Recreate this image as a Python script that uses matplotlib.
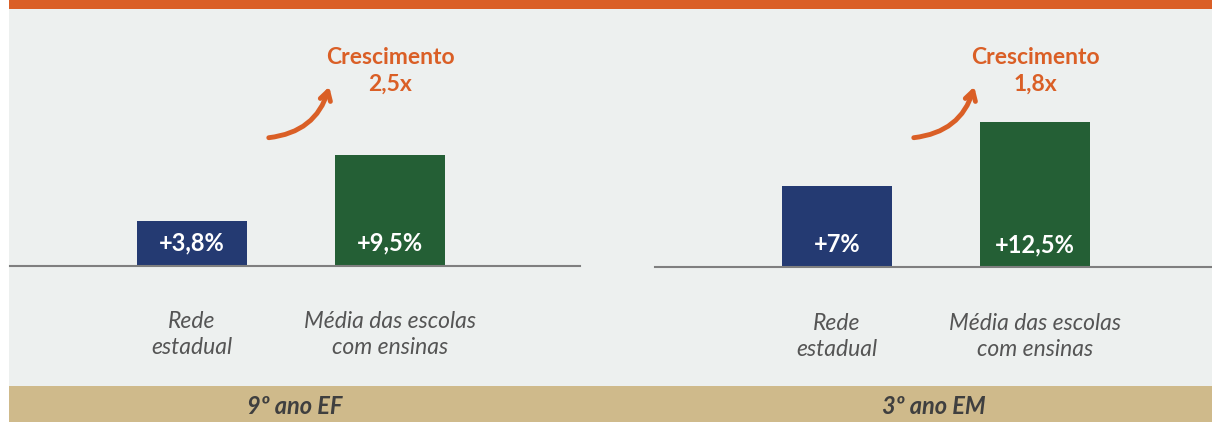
import matplotlib
matplotlib.use('Agg')
from matplotlib import pyplot as plt
from matplotlib.patches import Rectangle
import matplotlib.transforms as mtransforms

plt.rcParams['font.family'] = ['Lato', 'DejaVu Sans']

# data
categories = ['Rede\nestadual', 'Média das escolas\ncom ensinas']
panels = ['9º ano EF', '3º ano EM']
values_ef = [3.8, 9.5]
values_em = [7.0, 12.5]
labels_ef = ['+3,8%', '+9,5%']
labels_em = ['+7%', '+12,5%']
growth = ['2,5x', '1,8x']

blue = '#243a72'
green = '#245f35'
orange = '#da5f26'
bg = '#edf0ef'
tan = '#cfba8b'

W, H = 1212, 422
fig = plt.figure(figsize=(W / 100, H / 100), dpi=100)
fig.patch.set_facecolor('white')

def px_rect(x0, y0, x1, y1, color):
    # rectangle in pixels, y measured from top
    fig.add_artist(Rectangle((x0 / W, 1 - y1 / H), (x1 - x0) / W, (y1 - y0) / H,
                             transform=fig.transFigure, color=color, lw=0, zorder=0))

px_rect(9, 0, W, 9, orange)
px_rect(9, 9, W, 386, bg)
px_rect(9, 386, W, H, tan)

px_per_unit = 11.6
bar_step = 198.0
bar_w = 110 / bar_step

def panel(x0, x1, base, first_center, values, labels, grow, title):
    top = 9
    ax = fig.add_axes([x0 / W, 1 - base / H, (x1 - x0) / W, (base - top) / H])
    ax.set_facecolor('none')
    ax.set_xlim((x0 - first_center) / bar_step, (x1 - first_center) / bar_step)
    ax.set_ylim(0, (base - top) / px_per_unit)
    ax.bar([0, 1], values, width=bar_w, color=[blue, green], zorder=2)
    for i, lab in enumerate(labels):
        ax.annotate(lab, xy=(i, 0), xytext=(0, 16), textcoords='offset points',
                    ha='center', va='center', color='white', fontsize=17,
                    fontweight='bold', zorder=3)
    for s in ['top', 'left', 'right']:
        ax.spines[s].set_visible(False)
    ax.spines['bottom'].set_color('#7f7f7f')
    ax.spines['bottom'].set_linewidth(1.5)
    ax.set_yticks([])
    ax.set_xticks([0, 1])
    ax.set_xticklabels(categories, fontsize=16.5, style='italic', color='#555555',
                       linespacing=1.3)
    ax.tick_params(axis='x', length=0, pad=33)

    tr = mtransforms.blended_transform_factory(ax.transData, fig.transFigure)
    ax.text(1, 1 - 71 / H, 'Crescimento\n' + grow, transform=tr, ha='center',
            va='center', color=orange, fontsize=16.5, fontweight='bold',
            linespacing=1.3)
    ax.annotate('', xy=((330 - 192) / bar_step, 1 - 84 / H),
                xytext=((266 - 192) / bar_step, 1 - 138 / H),
                xycoords=tr, textcoords=tr, annotation_clip=False,
                arrowprops=dict(arrowstyle='->,head_length=0.65,head_width=0.38',
                                connectionstyle='arc3,rad=0.35', color=orange,
                                lw=3.5, capstyle='round', joinstyle='round'))
    fig.text(((x0 + x1) / 2) / W, 1 - 407 / H, title, ha='center', va='center',
             fontsize=17, style='italic', fontweight='bold', color='#3f3f3f')

panel(10, 580, 265.5, 192, values_ef, labels_ef, growth[0], panels[0])
panel(655, 1212, 267, 837, values_em, labels_em, growth[1], panels[1])

fig.savefig('out.png', dpi=100)
